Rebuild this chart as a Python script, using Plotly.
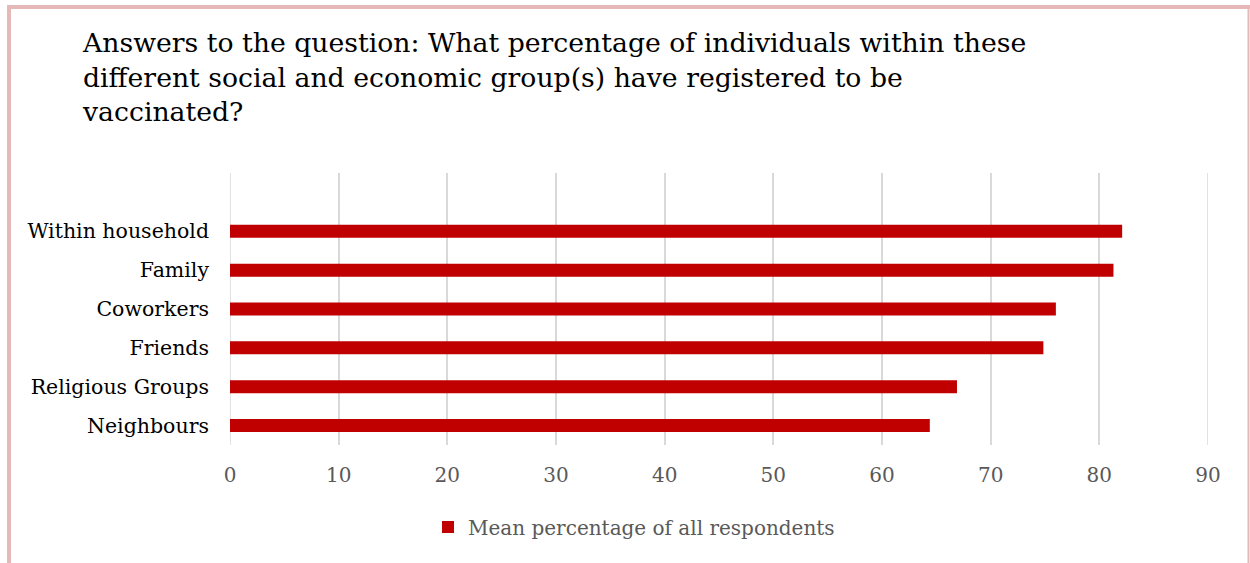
import plotly.graph_objects as go

# Survey groups, listed bottom to top
groups = ["Neighbours", "Religious Groups", "Friends", "Coworkers", "Family", "Within household"]
mean_pct = [64.4, 66.9, 74.85, 76.0, 81.3, 82.1]
series_name = "Mean percentage of all respondents"
x_ticks = [0, 10, 20, 30, 40, 50, 60, 70, 80, 90]
title_lines = [
    "Answers to the question: What percentage of individuals within these",
    "different social and economic group(s) have registered to be",
    "vaccinated?",
]

W, H = 1250, 563
L, R, T, B = 230, 42, 173, 118
plot_w = W - L - R
plot_h = H - T - B

def px_x(px):
    return (px - L) / plot_w

def px_y(py):
    return (H - B - py) / plot_h

FONT = "DejaVu Serif"
BAR = "#c00000"
BORDER = "#e6b9b8"
GRID = "#d9d9d9"

fig = go.Figure(
    go.Bar(
        y=groups,
        x=mean_pct,
        orientation="h",
        name=series_name,
        marker=dict(color=BAR, line=dict(width=0)),
        width=0.335,
    )
)

# gridlines at both ends of the value axis (plotly skips those at the range edges)
edge_grid = [
    dict(type="line", xref="x", yref="paper", x0=v, x1=v, y0=0, y1=1,
         layer="below", line=dict(color=GRID, width=1.5))
    for v in (x_ticks[0], x_ticks[-1])
]

frame = [
    dict(type="line", xref="paper", yref="paper", x0=px_x(9), x1=px_x(9),
         y0=px_y(5), y1=px_y(H + 5), line=dict(color=BORDER, width=4)),
    dict(type="line", xref="paper", yref="paper", x0=px_x(7), x1=px_x(1250),
         y0=px_y(7), y1=px_y(7), line=dict(color=BORDER, width=4)),
    dict(type="line", xref="paper", yref="paper", x0=px_x(1248.5), x1=px_x(1248.5),
         y0=px_y(5), y1=px_y(H + 5), line=dict(color=BORDER, width=2)),
]

fig.update_layout(
    width=W,
    height=H,
    margin=dict(l=L, r=R, t=T, b=B),
    paper_bgcolor="white",
    plot_bgcolor="white",
    showlegend=True,
    legend=dict(
        orientation="h",
        x=px_x(634),
        xanchor="center",
        y=px_y(527),
        yanchor="middle",
        font=dict(family=FONT, size=20, color="#595959"),
        itemwidth=30,
    ),
    xaxis=dict(
        range=[0, 90],
        tickvals=x_ticks,
        showgrid=True,
        gridcolor=GRID,
        gridwidth=1.5,
        zeroline=False,
        showline=False,
        ticks="",
        tickfont=dict(family=FONT, size=20, color="#595959"),
        ticklabelstandoff=16,
    ),
    yaxis=dict(
        categoryorder="array",
        categoryarray=groups,
        range=[-0.5, 6.5],
        showgrid=False,
        zeroline=False,
        showline=False,
        ticks="",
        tickfont=dict(family=FONT, size=20.5, color="#000000"),
        ticklabelstandoff=20,
    ),
    annotations=[
        dict(
            text="<br>".join(title_lines),
            xref="paper",
            yref="paper",
            x=px_x(80),
            y=px_y(25),
            xanchor="left",
            yanchor="top",
            align="left",
            showarrow=False,
            font=dict(family=FONT, size=26.7, color="#000000"),
        )
    ],
    shapes=edge_grid + frame,
)

fig.write_html("out.html")
